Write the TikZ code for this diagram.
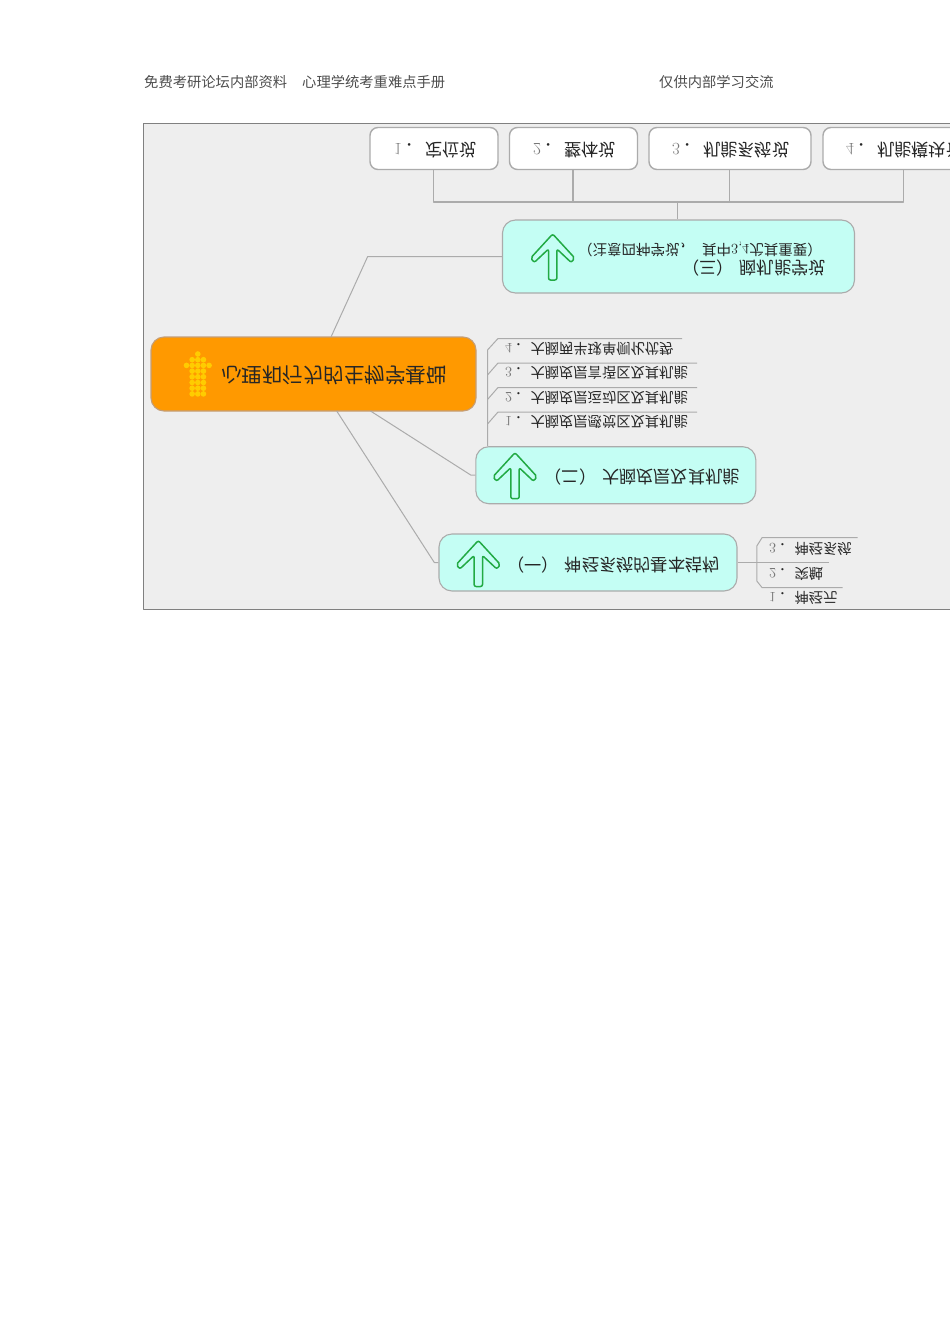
\documentclass[tikz,border=0pt]{standalone}
\usepackage{graphicx}
\usepackage{fontspec}
\newfontfamily\cjk{Noto Sans CJK SC}
\newcommand{\flip}[1]{\scalebox{1}[-1]{#1}}
\newcommand{\numtxt}[2]{\flip{{\rmfamily\color{numgray}#1}\hspace{3pt}．\hspace{#2}}}
\definecolor{numgray}{HTML}{777777}
\definecolor{panelgray}{HTML}{EEEEEE}
\definecolor{linegray}{HTML}{ABABAB}
\definecolor{rootorange}{HTML}{FF9900}
\definecolor{rootdot}{HTML}{FFCC00}
\definecolor{tealfill}{HTML}{C4FEF4}
\definecolor{arrowgreen}{HTML}{22AA44}
\begin{document}
\begin{tikzpicture}[x=1pt,y=-1pt,line join=round,
	headtxt/.style={anchor=west,inner sep=0pt,text=black!70,font=\cjk\fontsize{14.3}{17}\selectfont},
	whitebox/.style={draw=linegray,line width=1.4pt,fill=white,rounded corners=8pt,minimum height=42pt,inner sep=0pt},
	tealbox/.style={draw=linegray,line width=1.1pt,fill=tealfill,rounded corners=13pt,inner sep=0pt},
	rootbox/.style={draw=linegray!70!orange,line width=1.1pt,fill=rootorange,rounded corners=13pt,inner sep=0pt},
	boxtxt/.style={anchor=west,inner sep=0pt,text=black!85,font=\cjk\fontsize{17.2}{20}\selectfont},
	itemtxt/.style={anchor=west,inner sep=0pt,text=black!85,font=\cjk\fontsize{14.3}{17}\selectfont},
	linkline/.style={draw=linegray,line width=1.4pt},
	thinline/.style={draw=linegray,line width=1pt},
	upicon/.pic={\draw[arrowgreen,line width=1.5pt,fill=tealfill,rounded corners=2pt]
		(0,0)--(22,24)--(18.5,28.5)--(4.2,15)--(4.2,46)--(-4.2,46)--(-4.2,15)--(-18.5,28.5)--(-22,24)--cycle;}
	]
	\useasboundingbox (0,0) rectangle (950,1344);
	\clip (0,0) rectangle (950,1344);
	%======== page header
	\node[headtxt] (head1) at (144,82) {免费考研论坛内部资料};
	\node[headtxt] (head2) at (302,82) {心理学统考重难点手册};
	\node[headtxt] (head3) at (659,82) {仅供内部学习交流};
	%======== panel
	\draw[black!50,line width=1pt,fill=panelgray] (143.5,123.5) rectangle (970,609.5);
	%======== main boxes
	\node[rootbox,minimum width=325pt,minimum height=74pt] (root) at (313.5,374) {};
	\node[tealbox,minimum width=352pt,minimum height=73pt] (three) at (678.5,256.5) {};
	\node[tealbox,minimum width=280pt,minimum height=57pt] (two) at (615.8,475.2) {};
	\node[tealbox,minimum width=298pt,minimum height=57pt] (one) at (588,562.5) {};
	%======== top boxes
	\node[whitebox,minimum width=128pt] (w1) at (434,148.5) {};
	\node[whitebox,minimum width=128pt] (w2) at (573.5,148.5) {};
	\node[whitebox,minimum width=162pt] (w3) at (730,148.5) {};
	\node[whitebox,minimum width=162pt] (w4) at (904,148.5) {};
	\node[boxtxt] (t1) at (394,150) {\numtxt{1}{3pt}\flip{定位说}};
	\node[boxtxt] (t2) at (533,150) {\numtxt{2}{3pt}\flip{整体说}};
	\node[boxtxt] (t3) at (672,150) {\numtxt{3}{3pt}\flip{机能系统说}};
	\node[boxtxt] (t4) at (846,150) {\numtxt{4}{3pt}\flip{机能模块说}};
	%======== connectors of the top boxes
	\path (433.5,202) coordinate (b1)
	(573,202) coordinate (b2)
	(729.5,202) coordinate (b3)
	(903.5,202) coordinate (b4)
	(677,202) coordinate (b0);
	\draw[linkline] (w1.south -| b1)--(b1)--(b4)--(w4.south -| b4)
	(w2.south -| b2)--(b2)
	(w3.south -| b3)--(b3);
	\draw[thinline] (b0)--(three.north -| b0);
	%======== connectors of the root
	\path (331,337) coordinate (k3)
	(367.7,256.5) coordinate (m3)
	(370.5,411) coordinate (k2)
	(471,475.2) coordinate (m2)
	(336.7,411) coordinate (k1)
	(434.3,562.5) coordinate (m1);
	\draw[thinline] (k3)--(m3)--(three.west);
	\draw[thinline] (k2)--(m2)--(two.west);
	\draw[thinline] (k1)--(m1)--(one.west);
	%======== box texts
	\node[anchor=west,inner sep=0pt,text=black!85,font=\cjk\fontsize{20.5}{24}\selectfont] (rootT) at (221,375)
	{\flip{心理和行为的生物学基础}};
	\node[anchor=east,inner sep=0pt,text=black!85,font=\cjk\fontsize{14.5}{17}\selectfont] (threeA) at (822,249.5)
	{\flip{（注意四种学说，\hspace{8pt}其中{\rmfamily 3,4}尤其重要）}};
	\node[anchor=east,inner sep=0pt,text=black!85,font=\cjk\fontsize{17.2}{20}\selectfont] (threeB) at (826,268.5)
	{\flip{（三）\hspace{6pt}脑机能学说}};
	\node[anchor=east,inner sep=0pt,text=black!85,font=\cjk\fontsize{17.2}{20}\selectfont] (twoT) at (740,477.5)
	{\flip{（二）\hspace{6pt}大脑皮层及其机能}};
	\node[anchor=east,inner sep=0pt,text=black!85,font=\cjk\fontsize{17.2}{20}\selectfont] (oneT) at (720,565)
	{\flip{（一）\hspace{6pt}神经系统的基本结构}};
	%======== arrows
	\pic at (552.7,234) {upicon};
	\pic at (515,452.7) {upicon};
	\pic at (478.3,540.5) {upicon};
	\foreach \x in {-1,0,1}
	\foreach \y in {1,...,7}
	\fill[rootdot] (197.8+5.65*\x,354+5.7*\y) circle (2.8pt);
	\fill[rootdot] (197.8,354) circle (2.8pt)
	(186.5,365.4) circle (2.8pt) (209.1,365.4) circle (2.8pt);
	%======== items of (two)
	\path (498,338.5) coordinate (r4)
	(498,363) coordinate (r3)
	(498,387.5) coordinate (r2)
	(498,412) coordinate (r1)
	(487.5,350) coordinate (s4);
	\draw[thinline] (682,338.5)--(r4)--(s4)--(two.north -| s4);
	\foreach \n/\e in {3/697,2/697,1/697}
	\draw[thinline] (\e,0 |- r\n)--(r\n)--([yshift=-12pt]r\n -| s4);
	\node[itemtxt] (i4) at (505,348.5) {\numtxt{4}{1pt}\flip{大脑两半球单侧化优势}};
	\node[itemtxt] (i3) at (505,373) {\numtxt{3}{1pt}\flip{大脑皮层言语区及其机能}};
	\node[itemtxt] (i2) at (505,397.5) {\numtxt{2}{1pt}\flip{大脑皮层运动区及其机能}};
	\node[itemtxt] (i1) at (505,422) {\numtxt{1}{1pt}\flip{大脑皮层感觉区及其机能}};
	%======== items of (one)
	\path (829,562.5) coordinate (e2)
	(857.7,537.7) coordinate (e3)
	(842.7,587.5) coordinate (e1)
	(762,537.7) coordinate (c3)
	(762,587.5) coordinate (c1)
	(756.8,546) coordinate (v3)
	(756.8,581) coordinate (v1);
	\draw[thinline] (one.east)--(e2);
	\draw[thinline] (e3)--(c3)--(v3)--(v1)--(c1)--(e1);
	\node[itemtxt] (j3) at (769,548.5) {\numtxt{3}{1pt}\flip{神经系统}};
	\node[itemtxt] (j2) at (769,573.5) {\numtxt{2}{1pt}\flip{突触}};
	\node[itemtxt] (j1) at (769,597.5) {\numtxt{1}{1pt}\flip{神经元}};
	\end{tikzpicture}
\end{document}
